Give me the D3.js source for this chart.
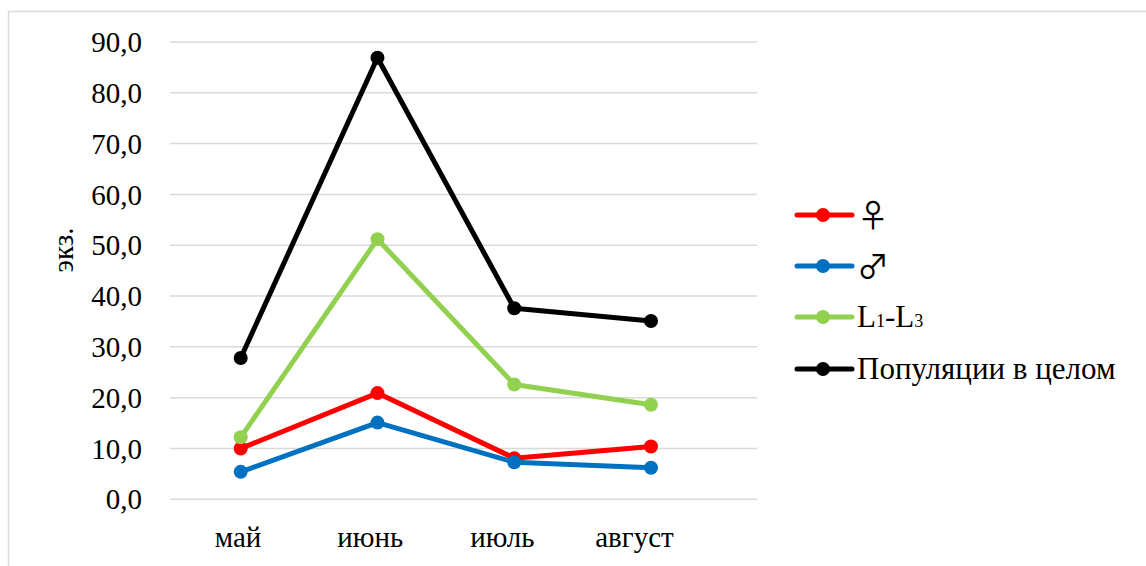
<!DOCTYPE html>
<html>
<head>
<meta charset="utf-8">
<script src="https://cdn.jsdelivr.net/npm/d3@7/dist/d3.min.js"></script>
<style>
  html, body { margin: 0; padding: 0; background: #fff; }
</style>
</head>
<body>
<svg id="chart" width="1146" height="566"></svg>
<script>
// Monthly counts (экз.) by group
const months = ["май", "июнь", "июль", "август"];
const females = [10.0, 20.9, 8.1, 10.4];
const males = [5.4, 15.1, 7.3, 6.2];
const larvae = [12.2, 51.2, 22.6, 18.6];
const population = [27.8, 86.9, 37.6, 35.1];
const yTicks = [0, 10, 20, 30, 40, 50, 60, 70, 80, 90];

const seriesList = [
  { key: "female", values: females, color: "#FF0000" },
  { key: "male", values: males, color: "#0070C0" },
  { key: "larvae", values: larvae, color: "#92D050" },
  { key: "population", values: population, color: "#000000" }
];

const SERIF = '"Liberation Serif"';
const SYMBOLS = '"Noto Sans CJK JP"';

const svg = d3.select("#chart");

// chart area frame
svg.append("rect")
  .attr("x", 8.5).attr("y", 11.5)
  .attr("width", 1200).attr("height", 600)
  .attr("fill", "none").attr("stroke", "#d9d9d9").attr("stroke-width", 1.5);

const plotLeft = 170, plotRight = 757;
const y = d3.scaleLinear().domain([0, 90]).range([499.3, 42]);
const x = d3.scalePoint().domain(months).range([240.7, 651]);
const xLabels = d3.scalePoint().domain(months).range([237.5, 634]);

// horizontal gridlines
svg.append("g")
  .selectAll("line")
  .data(yTicks)
  .join("line")
  .attr("x1", plotLeft).attr("x2", plotRight)
  .attr("y1", d => y(d)).attr("y2", d => y(d))
  .attr("stroke", "#d9d9d9").attr("stroke-width", 1.5);

// y axis labels
const yAxis = d3.axisLeft(y).tickValues(yTicks)
  .tickSize(0).tickPadding(0)
  .tickFormat(d => d3.format(".1f")(d).replace(".", ","));
const gy = svg.append("g").attr("transform", "translate(142,0)").call(yAxis);
gy.select(".domain").remove();
gy.attr("font-family", SERIF).attr("font-size", 29);
gy.selectAll("text").style("font-family", SERIF).style("font-size", "29px")
  .attr("fill", "#000").attr("dy", "0.33em");

// x axis labels
const xAxis = d3.axisBottom(xLabels).tickSize(0).tickPadding(0);
const gx = svg.append("g").attr("transform", "translate(0,547)").call(xAxis);
gx.select(".domain").remove();
gx.attr("font-family", SERIF).attr("font-size", 29);
gx.selectAll("text").style("font-family", SERIF).style("font-size", "29px")
  .attr("fill", "#000").attr("y", 0).attr("dy", 0);

// y axis title
svg.append("text")
  .attr("transform", "translate(72.5,250) rotate(-90)")
  .attr("text-anchor", "middle")
  .style("font-family", SERIF).style("font-size", "29px")
  .text("экз.");

// series lines and markers
const line = d3.line().x((d, i) => x(months[i])).y(d => y(d));
const gSeries = svg.append("g");
seriesList.forEach(s => {
  gSeries.append("path")
    .datum(s.values)
    .attr("d", line)
    .attr("fill", "none")
    .attr("stroke", s.color)
    .attr("stroke-width", 5)
    .attr("stroke-linejoin", "round");
  gSeries.selectAll(null)
    .data(s.values)
    .join("circle")
    .attr("cx", (d, i) => x(months[i]))
    .attr("cy", d => y(d))
    .attr("r", 7)
    .attr("fill", s.color);
});

// legend
const legendY = [215, 266, 317, 369];
const legend = svg.append("g");
seriesList.forEach((s, i) => {
  const g = legend.append("g").attr("transform", `translate(0,${legendY[i]})`);
  g.append("line").attr("x1", 797).attr("x2", 852).attr("y1", 0).attr("y2", 0)
    .attr("stroke", s.color).attr("stroke-width", 5).attr("stroke-linecap", "round");
  g.append("circle").attr("cx", 823).attr("cy", 0).attr("r", 7).attr("fill", s.color);
  const t = g.append("text").attr("x", 857).attr("y", 0).attr("dy", "0.33em")
    .style("font-family", SERIF).style("font-size", "31px");
  if (s.key === "female") {
    t.style("font-family", SYMBOLS).style("font-size", "32px").attr("dy", "0.38em").text("♀");
  } else if (s.key === "male") {
    t.style("font-family", SYMBOLS).style("font-size", "32px").attr("dy", "0.38em").text("♂");
  } else if (s.key === "larvae") {
    t.append("tspan").text("L");
    t.append("tspan").style("font-size", "18px").text("1");
    t.append("tspan").text("-L");
    t.append("tspan").style("font-size", "18px").text("3");
  } else {
    t.text("Популяции в целом");
  }
});
</script>
</body>
</html>
